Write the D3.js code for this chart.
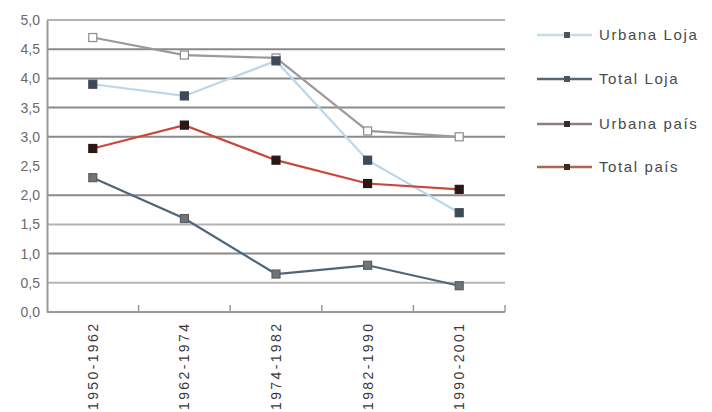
<!DOCTYPE html>
<html>
<head>
<meta charset="utf-8">
<script src="https://cdn.jsdelivr.net/npm/d3@7/dist/d3.min.js"></script>
<style>
  html, body { margin: 0; padding: 0; background: #fff; }
  svg { display: block; }
  text { font-family: "Liberation Sans Narrow", "Liberation Sans", "DejaVu Sans Condensed", sans-serif; }
</style>
</head>
<body>
<svg id="chart" width="712" height="412"></svg>
<script>
// Growth rates by intercensal period
const periods = ["1950-1962", "1962-1974", "1974-1982", "1982-1990", "1990-2001"];
const urbanaLoja = [3.9, 3.7, 4.3, 2.6, 1.7];
const totalLoja = [2.3, 1.6, 0.65, 0.8, 0.45];
const urbanaPais = [4.7, 4.4, 4.35, 3.1, 3.0];
const totalPais = [2.8, 3.2, 2.6, 2.2, 2.1];
const seriesNames = ["Urbana Loja", "Total Loja", "Urbana país", "Total país"];
const yTicks = [0, 0.5, 1, 1.5, 2, 2.5, 3, 3.5, 4, 4.5, 5];
const gridValues = [0.5, 1, 1.5, 2, 3, 3.5, 4, 4.5, 5];

const series = [
  { name: seriesNames[0], values: urbanaLoja, line: "#bcd6ea", marker: "#3d4a57", markerStroke: "#3d4a57", legendLine: "#c4dbeb" },
  { name: seriesNames[1], values: totalLoja, line: "#4d667c", marker: "#707476", markerStroke: "#5a5e60", legendLine: "#5b6770" },
  { name: seriesNames[2], values: urbanaPais, line: "#9a9a9a", marker: "#ffffff", markerStroke: "#8a8a8a", legendLine: "#8c7f80" },
  { name: seriesNames[3], values: totalPais, line: "#c9483c", marker: "#2b1717", markerStroke: "#2b1717", legendLine: "#a8674f" }
];

const svg = d3.select("#chart");
const margin = { left: 47, right: 207, top: 20, bottom: 100 };
const W = 712, H = 412;
const plotW = W - margin.left - margin.right;
const plotH = H - margin.top - margin.bottom;

const x = d3.scaleBand().domain(periods).range([margin.left, margin.left + plotW]);
const y = d3.scaleLinear().domain([0, 5]).range([margin.top + plotH, margin.top]);

// horizontal gridlines
const gridShade = v => (v === 5 || v === 0.5 || v === 1.5) ? "#b4b4b4" : "#8a8a8a";
svg.append("g")
  .selectAll("line")
  .data(gridValues)
  .join("line")
  .attr("x1", margin.left)
  .attr("x2", margin.left + plotW)
  .attr("y1", d => y(d))
  .attr("y2", d => y(d))
  .attr("stroke", gridShade)
  .attr("stroke-width", 2);

// y axis
const yAxis = svg.append("g")
  .attr("transform", `translate(${margin.left},0)`)
  .call(d3.axisLeft(y).tickValues(yTicks).tickSize(0).tickPadding(7)
    .tickFormat(d => d3.format(".1f")(d).replace(".", ",")));
yAxis.select(".domain").attr("stroke", "#9a9a9a").attr("stroke-width", 2);
yAxis.selectAll("text").attr("fill", "#6a6a6a").attr("font-size", 14);

// x axis with inward tick marks at category boundaries
const xAxisG = svg.append("g")
  .attr("transform", `translate(0,${margin.top + plotH})`);
xAxisG.append("line")
  .attr("x1", margin.left).attr("x2", margin.left + plotW)
  .attr("stroke", "#9a9a9a").attr("stroke-width", 2);
xAxisG.selectAll("line.tick")
  .data(periods)
  .join("line")
  .attr("class", "tick")
  .attr("x1", d => x(d) + x.bandwidth())
  .attr("x2", d => x(d) + x.bandwidth())
  .attr("y1", 0).attr("y2", -7)
  .attr("stroke", "#9a9a9a").attr("stroke-width", 1.5);
xAxisG.selectAll("text")
  .data(periods)
  .join("text")
  .attr("transform", d => `translate(${x(d) + x.bandwidth() / 2 + 5},12) rotate(-90)`)
  .attr("text-anchor", "end")
  .attr("font-size", 14)
  .attr("fill", "#3a3a3a")
  .attr("textLength", 86)
  .attr("lengthAdjust", "spacing")
  .text(d => d);

const cx = i => x(periods[i]) + x.bandwidth() / 2;
const line = d3.line().x((d, i) => cx(i)).y(d => y(d));

// series lines, drawn back to front
const order = [2, 0, 3, 1];
order.forEach(k => {
  const s = series[k];
  svg.append("path")
    .datum(s.values)
    .attr("d", line)
    .attr("fill", "none")
    .attr("stroke", s.line)
    .attr("stroke-width", 2.2);
});
order.forEach(k => {
  const s = series[k];
  svg.append("g")
    .selectAll("rect")
    .data(s.values)
    .join("rect")
    .attr("x", (d, i) => cx(i) - 4)
    .attr("y", d => y(d) - 4)
    .attr("width", 8)
    .attr("height", 8)
    .attr("fill", s.marker)
    .attr("stroke", s.markerStroke)
    .attr("stroke-width", 1.2);
});

// legend
const legendY = [35, 79, 124, 167];
const legend = svg.append("g");
series.forEach((s, i) => {
  const g = legend.append("g").attr("transform", `translate(537,${legendY[i]})`);
  g.append("line").attr("x1", 0).attr("x2", 55).attr("y1", 0).attr("y2", 0)
    .attr("stroke", s.legendLine).attr("stroke-width", 2.5);
  g.append("rect").attr("x", 27).attr("y", -3).attr("width", 6).attr("height", 6)
    .attr("fill", i < 2 ? "#4a5560" : "#3b2a2a");
  g.append("text").attr("x", 62).attr("y", 5)
    .attr("font-size", 15)
    .attr("letter-spacing", 1.6)
    .attr("fill", "#4a4a4a")
    .text(s.name);
});
</script>
</body>
</html>
